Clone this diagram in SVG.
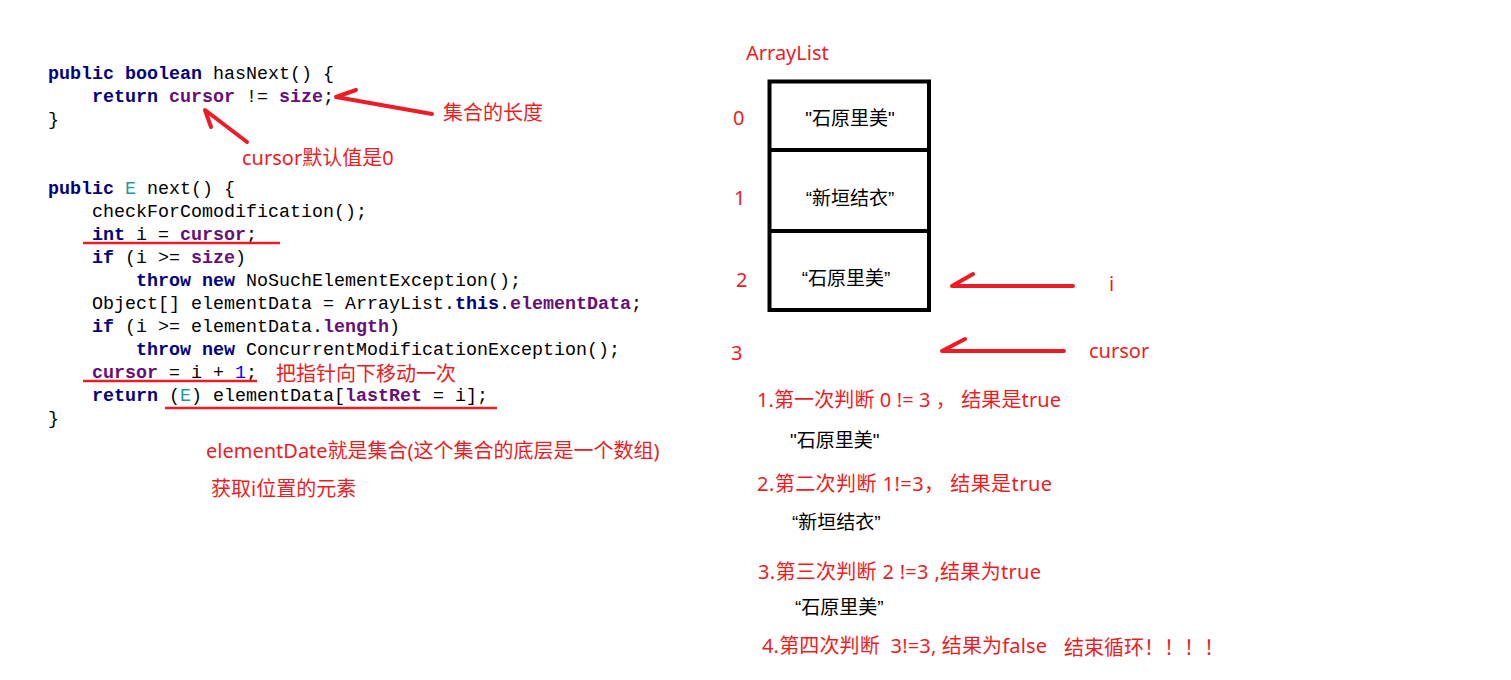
<svg xmlns="http://www.w3.org/2000/svg" width="1511" height="680" viewBox="0 0 1511 680">
<style>
.code{font-family:"Liberation Mono","DejaVu Sans Mono",monospace;font-size:18.33px;fill:#000}
.kw{fill:#000080;font-weight:bold}
.fd{fill:#660E7A;font-weight:bold}
.ty{fill:#20999D}
.num{fill:#0000FF}
.note{font-family:"Noto Sans","Noto Sans CJK SC",sans-serif;font-size:20px;fill:#ED1C24}
.cell{font-family:"Liberation Sans","Noto Sans CJK SC",sans-serif;font-size:19px;fill:#000}
.stroke{stroke:#ED1C24;stroke-width:4;fill:none;stroke-linecap:round;stroke-linejoin:round}
.uline{stroke:#ED1C24;stroke-width:2.5;fill:none}
</style>
<rect width="1511" height="680" fill="#fff"/>
<g id="code">
<text class="code" x="48" y="79"><tspan class="kw">public boolean</tspan> hasNext() {</text>
<text class="code" x="92" y="102"><tspan class="kw">return</tspan> <tspan class="fd">cursor</tspan> != <tspan class="fd">size</tspan>;</text>
<text class="code" x="48" y="125">}</text>
<text class="code" x="48" y="194"><tspan class="kw">public</tspan> <tspan class="ty">E</tspan> next() {</text>
<text class="code" x="92" y="217">checkForComodification();</text>
<text class="code" x="92" y="240"><tspan class="kw">int</tspan> i = <tspan class="fd">cursor</tspan>;</text>
<text class="code" x="92" y="263"><tspan class="kw">if</tspan> (i &gt;= <tspan class="fd">size</tspan>)</text>
<text class="code" x="136" y="286"><tspan class="kw">throw new</tspan> NoSuchElementException();</text>
<text class="code" x="92" y="309">Object[] elementData = ArrayList.<tspan class="kw">this</tspan>.<tspan class="fd">elementData</tspan>;</text>
<text class="code" x="92" y="332"><tspan class="kw">if</tspan> (i &gt;= elementData.<tspan class="fd">length</tspan>)</text>
<text class="code" x="136" y="355"><tspan class="kw">throw new</tspan> ConcurrentModificationException();</text>
<text class="code" x="92" y="378"><tspan class="fd">cursor</tspan> = i + <tspan class="num">1</tspan>;</text>
<text class="code" x="92" y="401"><tspan class="kw">return</tspan> (<tspan class="ty">E</tspan>) elementData[<tspan class="fd">lastRet</tspan> = i];</text>
<text class="code" x="48" y="424">}</text>
</g>
<g id="underlines">
<line class="uline" x1="83" y1="243" x2="280" y2="243"/>
<line class="uline" x1="83" y1="381" x2="257" y2="381"/>
<line class="uline" x1="165" y1="408" x2="497" y2="408"/>
</g>
<g id="notes">
<text class="note" x="443" y="120">集合的长度</text>
<text class="note" x="242" y="165">cursor默认值是0</text>
<text class="note" x="276" y="381">把指针向下移动一次</text>
<text class="note" x="206" y="458">elementDate就是集合(这个集合的底层是一个数组)</text>
<text class="note" x="211" y="496">获取i位置的元素</text>
</g>
<g id="arraylist">
<text class="note" x="746" y="60">ArrayList</text>
<rect x="769.5" y="81.5" width="159.5" height="228.5" fill="none" stroke="#000" stroke-width="4"/>
<line x1="769.5" y1="150" x2="929" y2="150" stroke="#000" stroke-width="4"/>
<line x1="769.5" y1="231" x2="929" y2="231" stroke="#000" stroke-width="4"/>
<text class="cell" x="850" y="125" text-anchor="middle">"石原里美"</text>
<text class="cell" x="850" y="205" text-anchor="middle">“新垣结衣”</text>
<text class="cell" x="846" y="285" text-anchor="middle">“石原里美”</text>
<text class="note" x="733" y="125">0</text>
<text class="note" x="734" y="205">1</text>
<text class="note" x="736" y="287">2</text>
<text class="note" x="731" y="360">3</text>
<text class="note" x="1109" y="291">i</text>
<text class="note" x="1089" y="358">cursor</text>
</g>
<g id="connectors">
<path class="stroke" d="M432,114 L336,97 L356,90"/>
<path class="stroke" d="M247,142 L205,110 L211,127"/>
<path class="stroke" d="M1073,286 L952,286 L973,274"/>
<path class="stroke" d="M1064,351 L942,351 L965,339"/>
</g>
<g id="steps">
<text class="note" x="757" y="407" textLength="304" lengthAdjust="spacing">1.第一次判断 0 != 3 ， 结果是true</text>
<text class="cell" x="790" y="447">"石原里美"</text>
<text class="note" x="757" y="491" textLength="295" lengthAdjust="spacing">2.第二次判断 1!=3， 结果是true</text>
<text class="cell" x="792" y="529">“新垣结衣”</text>
<text class="note" x="758" y="579" textLength="283" lengthAdjust="spacing">3.第三次判断 2 !=3 ,结果为true</text>
<text class="cell" x="795" y="614">“石原里美”</text>
<text class="note" x="762" y="653" textLength="285" lengthAdjust="spacing" xml:space="preserve">4.第四次判断  3!=3, 结果为false</text>
<text class="note" x="1064" y="655">结束循环！！！！</text>
</g>
</svg>
